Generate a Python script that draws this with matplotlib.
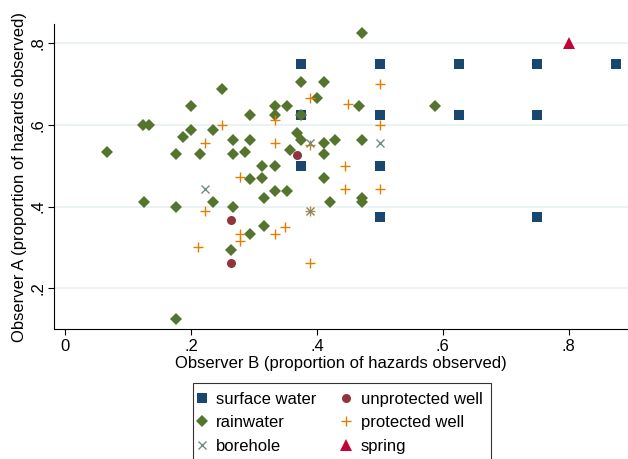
import matplotlib
matplotlib.use("Agg")
import matplotlib.pyplot as plt

plt.rcParams['font.family'] = ['Liberation Sans', 'DejaVu Sans']

# observer B (x) / observer A (y) proportions, by source type
surface_x = [0.375, 0.5, 0.625, 0.75, 0.875, 0.375, 0.5, 0.625, 0.75, 0.375, 0.5, 0.5, 0.75]
surface_y = [0.75, 0.75, 0.75, 0.75, 0.75, 0.625, 0.625, 0.625, 0.625, 0.5, 0.5, 0.375, 0.375]

unprot_x = [0.263, 0.263, 0.368]
unprot_y = [0.368, 0.263, 0.526]

rain_x = [0.067, 0.124, 0.134, 0.125, 0.176, 0.176, 0.176, 0.188, 0.200, 0.200,
          0.214, 0.235, 0.235, 0.250, 0.267, 0.267, 0.267, 0.263, 0.286, 0.294,
          0.294, 0.294, 0.294, 0.313, 0.313, 0.316, 0.316, 0.333, 0.333, 0.333,
          0.333, 0.353, 0.353, 0.357, 0.369, 0.375, 0.375, 0.375, 0.400, 0.412,
          0.412, 0.412, 0.412, 0.421, 0.429, 0.467, 0.471, 0.471, 0.471, 0.471,
          0.588]
rain_y = [0.533, 0.600, 0.600, 0.412, 0.529, 0.400, 0.125, 0.571, 0.588, 0.646,
          0.529, 0.588, 0.412, 0.687, 0.563, 0.529, 0.400, 0.294, 0.533, 0.625,
          0.563, 0.467, 0.333, 0.500, 0.469, 0.420, 0.353, 0.647, 0.625, 0.500,
          0.437, 0.647, 0.437, 0.539, 0.579, 0.706, 0.625, 0.563, 0.667, 0.706,
          0.556, 0.529, 0.469, 0.412, 0.563, 0.647, 0.824, 0.563, 0.420, 0.412,
          0.647]

prot_x = [0.250, 0.222, 0.278, 0.222, 0.278, 0.278, 0.211, 0.500, 0.389, 0.450,
          0.333, 0.500, 0.333, 0.389, 0.444, 0.444, 0.500, 0.389, 0.350, 0.333,
          0.389]
prot_y = [0.600, 0.556, 0.472, 0.389, 0.333, 0.316, 0.300, 0.700, 0.667, 0.650,
          0.611, 0.600, 0.556, 0.550, 0.500, 0.444, 0.444, 0.389, 0.350, 0.333,
          0.263]

bore_x = [0.222, 0.389, 0.5, 0.389]
bore_y = [0.444, 0.556, 0.556, 0.389]

spring_x = [0.8]
spring_y = [0.8]

fig = plt.figure(figsize=(6.28, 4.59), dpi=100)
ax = fig.add_axes([54 / 628, 1 - 329.3 / 459, 1 - 54 / 628, (329.3 - 24) / 459])

h_sw, = ax.plot(surface_x, surface_y, 's', color='#1a476f', ms=6.5, mew=0, label='surface water')
h_uw, = ax.plot(unprot_x, unprot_y, 'o', color='#90353b', ms=6.5, mew=0, label='unprotected well')
h_rw, = ax.plot(rain_x, rain_y, 'D', color='#55752f', ms=6.3, mew=0, label='rainwater')
h_pw, = ax.plot(prot_x, prot_y, '+', color='#e37e00', ms=6.5, mew=1.0, label='protected well')
h_bh, = ax.plot(bore_x, bore_y, 'x', color='#6e8e84', ms=5.5, mew=1.0, label='borehole')
h_sp, = ax.plot(spring_x, spring_y, '^', color='#c10534', ms=8, mew=0, label='spring')

ax.set_xlim(-0.0175, 0.894)
ax.set_ylim(0.0995, 0.847)
ax.set_xticks([0, 0.2, 0.4, 0.6, 0.8])
ax.set_xticklabels(['0', '.2', '.4', '.6', '.8'])
ax.set_yticks([0.2, 0.4, 0.6, 0.8])
ax.set_yticklabels(['.2', '.4', '.6', '.8'], rotation=90, va='center')
ax.tick_params(labelsize=12, length=4.3, width=0.8, color='black')
ax.tick_params(axis='x', pad=2.5)
ax.tick_params(axis='y', pad=1.5)
ax.yaxis.grid(True, color='#eaf2f3', linewidth=1.5)
ax.set_axisbelow(True)
for s in ['top', 'right']:
    ax.spines[s].set_visible(False)
for s in ['left', 'bottom']:
    ax.spines[s].set_linewidth(0.8)

ax.set_xlabel('Observer B (proportion of hazards observed)', fontsize=12, labelpad=1.5)
ax.set_ylabel('Observer A (proportion of hazards observed)', fontsize=12, labelpad=3)

leg = fig.legend(handles=[h_sw, h_rw, h_bh, h_uw, h_pw, h_sp], ncol=2,
                 loc='upper left', bbox_to_anchor=(192.7 / 628, 1 - 383.3 / 459),
                 fontsize=12, frameon=True, fancybox=False, edgecolor='black',
                 handlelength=0.1, handletextpad=0.8, columnspacing=1.75,
                 labelspacing=0.52, borderpad=0.5, borderaxespad=0)
leg.get_frame().set_linewidth(0.8)

fig.savefig('out.png', dpi=100)
